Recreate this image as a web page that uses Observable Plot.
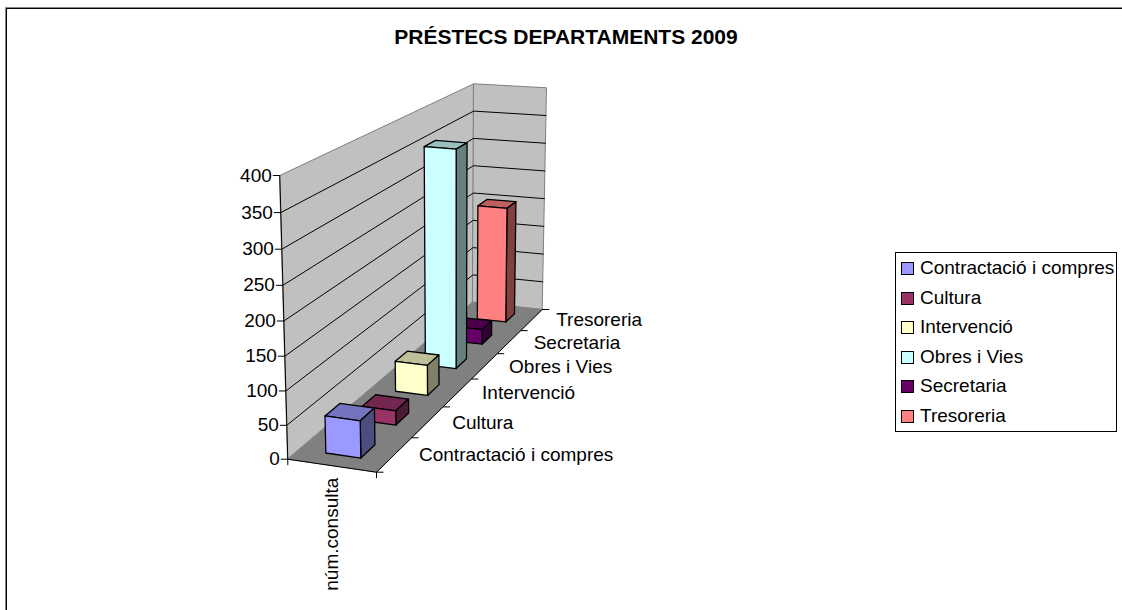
<!DOCTYPE html>
<html><head><meta charset="utf-8">
<script src="https://cdn.jsdelivr.net/npm/d3@7"></script>
<script src="https://cdn.jsdelivr.net/npm/@observablehq/plot@0.6"></script>
<style>
html,body{margin:0;padding:0;background:#fff;overflow:hidden}
#page{position:relative;width:1122px;height:610px;overflow:hidden;font-family:"Liberation Sans",Arial,sans-serif;color:#000}
#frame{position:absolute;left:6px;top:8px;right:-10px;bottom:-10px;border:1px solid #000;box-shadow:-1px -1px 0 #888}
#title{position:absolute;left:0;width:1132px;top:26px;text-align:center;font-weight:bold;font-size:21px;line-height:21px}
#chart{position:absolute;left:0;top:0;width:1122px;height:610px}
#legend{position:absolute;left:895px;top:252px;width:220px;height:178px;border:1px solid #000;background:#fff;font-size:19px}
#legend .row{position:absolute;left:5px;height:20px;line-height:20px;white-space:nowrap}
#legend .sw{display:inline-block;width:11px;height:11px;border:1px solid #000;margin-right:6px;vertical-align:-1px}
</style></head><body>
<div id="page"><div id="frame"></div><div id="chart"></div><div id="title"></div><div id="legend"></div></div>
<script>
const chartTitle = "PRÉSTECS DEPARTAMENTS 2009";
const departments = ["Contractació i compres","Cultura","Intervenció","Obres i Vies","Secretaria","Tresoreria"];
const consultes = [55, 22, 48, 358, 25, 201];
const colors = ["#9999FF","#993366","#FFFFCC","#CCFFFF","#660066","#FF8080"];
const topColors = ["#7373BF","#732650","#BFBF99","#99BFBF","#4C004C","#BF6060"];
const sideColors = ["#4D4D80","#4D1A33","#808066","#668080","#330033","#804040"];
const valueTicks = [0,50,100,150,200,250,300,350,400];
const categoryLabel = "núm.consulta";

// Projection of the chart's 3D box on the page
const FL0=[287.3,458.7],FL1=[279.3,175],FR0=[376,471.7],FR1=[372,184],
      BL0=[472.3,301.7],BL1=[473.3,83.3],BR0=[541.7,309],BR1=[546,87.3];
const maxV=400, depthPersp=1.34, nC=departments.length;
const lerp=(a,b,t)=>[a[0]+(b[0]-a[0])*t,a[1]+(b[1]-a[1])*t];
function proj(u,d,v){
  const s=depthPersp*d/(depthPersp*d+1-d);
  const hf=v/maxV;
  const hFront=.95*hf/(.95*hf+1-hf);
  const h=hFront*(1-s)+hf*s;
  const f=lerp(lerp(FL0,FR0,u),lerp(FL1,FR1,u),h);
  const b=lerp(lerp(BL0,BR0,u),lerp(BL1,BR1,u),h);
  return lerp(f,b,s);
}
const polys=[];
function poly(id,pts,fill,stroke){ pts.forEach(p=>polys.push({id,x:p[0],y:p[1],fill,stroke})); }
poly("wallL",[proj(0,0,0),proj(0,1,0),proj(0,1,maxV),proj(0,0,maxV)],"#C0C0C0","#808080");
poly("wallB",[proj(0,1,0),proj(1,1,0),proj(1,1,maxV),proj(0,1,maxV)],"#C0C0C0","#808080");
poly("floor",[proj(0,0,0),proj(1,0,0),proj(1,1,0),proj(0,1,0)],"#808080","#808080");

const gridLines=[];
valueTicks.slice(1,-1).forEach(v=>{
  [[0,0],[0,1],[1,1]].forEach(c=>{const p=proj(c[0],c[1],v);gridLines.push({v,x:p[0],y:p[1]});});
});

// Bars, drawn from back to front
const u0=.3,u1=.7,df=.29,db=.68;
const barPolys=[];
function bpoly(id,pts,fill){ pts.forEach(p=>barPolys.push({id,x:p[0],y:p[1],fill})); }
departments.map((_,i)=>i).reverse().forEach(i=>{
  const d0=(i+df)/nC,d1=(i+db)/nC,v=consultes[i];
  bpoly(i+"top",[proj(u0,d0,v),proj(u1,d0,v),proj(u1,d1,v),proj(u0,d1,v)],topColors[i]);
  bpoly(i+"side",[proj(u1,d0,0),proj(u1,d1,0),proj(u1,d1,v),proj(u1,d0,v)],sideColors[i]);
  bpoly(i+"front",[proj(u0,d0,0),proj(u1,d0,0),proj(u1,d0,v),proj(u0,d0,v)],colors[i]);
});

// Axes
const axisLines=[];
function seg(id,a,b){axisLines.push({id,x:a[0],y:a[1]},{id,x:b[0],y:b[1]});}
seg("ax0",proj(0,0,0),proj(0,0,maxV));
seg("ax1",proj(0,0,0),proj(1,0,0));
seg("ax2",proj(1,0,0),proj(1,1,0));
const vPts=valueTicks.map(v=>{const p=proj(0,0,v);return {v,x:p[0],y:p[1]};});
const dPts=d3.range(nC+1).map(i=>{const p=proj(1,i/nC,0);return {x:p[0],y:p[1]};});
const lPts=departments.map((name,i)=>{const p=proj(1,(i+.5)/nC,0);return {name,x:p[0],y:p[1]};});
const xPts=[0,1].map(u=>{const p=proj(u,0,0);return {x:p[0],y:p[1]};});
const catPt=(()=>{const p=proj(.5,0,0);return {x:p[0],y:p[1]};})();

const font={fontFamily:'"Liberation Sans",Arial,sans-serif',fontSize:19,fill:"#000"};
const chart=Plot.plot({
  width:1122,height:610,margin:0,
  x:{domain:[0,1122],range:[0,1122],axis:null},
  y:{domain:[0,610],range:[0,610],axis:null},
  style:{background:"transparent"},
  marks:[
    Plot.line(polys,{x:"x",y:"y",z:"id",fill:"fill",stroke:"stroke",strokeWidth:1,curve:"linear-closed"}),
    Plot.line(gridLines,{x:"x",y:"y",z:"v",stroke:"#000",strokeWidth:1}),
    Plot.line(axisLines,{x:"x",y:"y",z:"id",stroke:"#000",strokeWidth:1}),
    Plot.line(barPolys,{x:"x",y:"y",z:"id",fill:"fill",stroke:"#000",strokeWidth:1.3,curve:"linear-closed"}),
    Plot.link(vPts,{x1:d=>d.x-7,x2:"x",y1:"y",y2:"y",stroke:"#000"}),
    Plot.link(dPts,{x1:"x",x2:d=>d.x+7,y1:"y",y2:"y",stroke:"#000"}),
    Plot.link(xPts,{x1:"x",x2:"x",y1:"y",y2:d=>d.y+6,stroke:"#000"}),
    Plot.text(vPts,{x:"x",y:"y",text:"v",textAnchor:"end",dx:-8,...font}),
    Plot.text(lPts,{x:"x",y:"y",text:"name",textAnchor:"start",dx:24.5,dy:0.5,...font}),
    Plot.text([catPt],{x:"x",y:"y",text:()=>categoryLabel,rotate:-90,textAnchor:"end",dy:12,...font})
  ]
});
document.getElementById("chart").appendChild(chart);
document.getElementById("title").textContent=chartTitle;
const lg=document.getElementById("legend");
departments.forEach((name,i)=>{
  const r=document.createElement("div");r.className="row";r.style.top=(5+i*29.6)+"px";
  const s=document.createElement("span");s.className="sw";s.style.background=colors[i];
  r.appendChild(s);r.appendChild(document.createTextNode(name));lg.appendChild(r);
});
</script></body></html>
